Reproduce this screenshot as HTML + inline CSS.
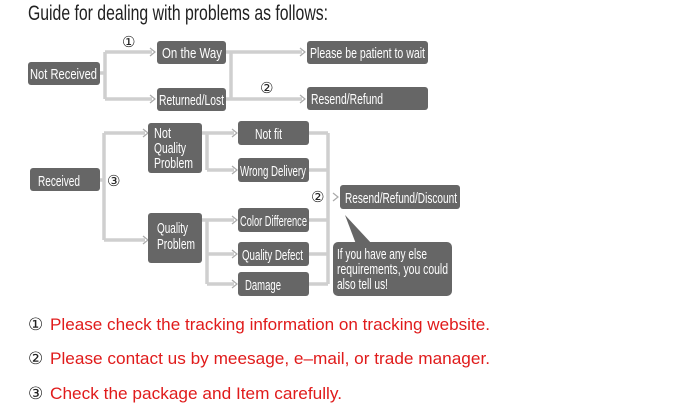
<!DOCTYPE html>
<html><head><meta charset="utf-8"><style>
body{margin:0;background:#fff;width:694px;height:410px;overflow:hidden}
svg{display:block}
.t{font-family:"Liberation Sans",sans-serif;fill:#fff;font-size:14.5px}
.r{font-family:"Liberation Sans",sans-serif;font-size:17px;fill:#e01b1b}
.c{font-family:"DejaVu Sans",sans-serif;fill:#222}
</style></head><body>
<svg width="694" height="410" viewBox="0 0 694 410">
<text x="28" y="20" font-family="Liberation Sans,sans-serif" font-size="21" fill="#222" textLength="300" lengthAdjust="spacingAndGlyphs">Guide for dealing with problems as follows:</text>
<g fill="none" stroke="#cfcfcf" stroke-width="3.5">
<path d="M100 73H105M105 52V99M105 52H152M105 99H152"/>
<path d="M226 52H231M231 52V99M231 52H302M226 99H302"/>
<path d="M100 180H104M104 133V240M104 133H145M104 240H145"/>
<path d="M202 133H207M207 133V170M207 133H234M207 170H234"/>
<path d="M202 220H207M207 220V284M207 220H234M207 254H234M207 284H234"/>
<path d="M309 133H328M309 170H328M309 220H328M309 254H328M309 284H328M328 133V284"/>
</g>
<g fill="none" stroke="#aaa" stroke-width="1.2">
<path d="M150 48l5 4-5 4M300 48l5 4-5 4M150 95l5 4-5 4M300 95l5 4-5 4"/>
<path d="M143 129l5 4-5 4M143 236l5 4-5 4"/>
<path d="M232 129l5 4-5 4M232 166l5 4-5 4M232 216l5 4-5 4M232 250l5 4-5 4M232 280l5 4-5 4"/>
<path d="M333 193l5 4-5 4"/>
</g>
<g fill="#666">
<rect x="28" y="62" width="72" height="23" rx="3"/>
<rect x="157" y="41" width="69" height="23" rx="3"/>
<rect x="307" y="41" width="121" height="23" rx="3"/>
<rect x="157" y="88" width="69" height="23" rx="3"/>
<rect x="307" y="87" width="121" height="23" rx="3"/>
<rect x="30" y="168" width="70" height="23" rx="3"/>
<rect x="148" y="123" width="54" height="50" rx="3"/>
<rect x="148" y="213" width="54" height="50" rx="3"/>
<rect x="238" y="121" width="71" height="24" rx="3"/>
<rect x="238" y="158" width="71" height="24" rx="3"/>
<rect x="238" y="208" width="71" height="24" rx="3"/>
<rect x="238" y="242" width="71" height="24" rx="3"/>
<rect x="238" y="272" width="71" height="24" rx="3"/>
<rect x="340" y="185" width="120" height="24" rx="3"/>
<rect x="333" y="242" width="119" height="54" rx="5"/>
<path d="M345 215L372 244H356Z"/>
</g>
<g class="t">
<text x="30" y="79" textLength="67" lengthAdjust="spacingAndGlyphs">Not Received</text>
<text x="162" y="58" textLength="60" lengthAdjust="spacingAndGlyphs">On the Way</text>
<text x="310" y="58" textLength="115" lengthAdjust="spacingAndGlyphs">Please be patient to wait</text>
<text x="159" y="105" textLength="65" lengthAdjust="spacingAndGlyphs">Returned/Lost</text>
<text x="311" y="104" textLength="72" lengthAdjust="spacingAndGlyphs">Resend/Refund</text>
<text x="38" y="186" textLength="42" lengthAdjust="spacingAndGlyphs">Received</text>
<text x="154" y="138" textLength="17" lengthAdjust="spacingAndGlyphs">Not</text>
<text x="154" y="153" textLength="32" lengthAdjust="spacingAndGlyphs">Quality</text>
<text x="154" y="168" textLength="39" lengthAdjust="spacingAndGlyphs">Problem</text>
<text x="157" y="233" textLength="31" lengthAdjust="spacingAndGlyphs">Quality</text>
<text x="157" y="249" textLength="38" lengthAdjust="spacingAndGlyphs">Problem</text>
<text x="255" y="139" textLength="27" lengthAdjust="spacingAndGlyphs">Not fit</text>
<text x="240" y="176" textLength="66" lengthAdjust="spacingAndGlyphs">Wrong Delivery</text>
<text x="240" y="226" textLength="67" lengthAdjust="spacingAndGlyphs">Color Difference</text>
<text x="242" y="260" textLength="61" lengthAdjust="spacingAndGlyphs">Quality Defect</text>
<text x="245" y="290" textLength="36" lengthAdjust="spacingAndGlyphs">Damage</text>
<text x="345" y="203" textLength="112" lengthAdjust="spacingAndGlyphs">Resend/Refund/Discount</text>
<text x="337" y="259" textLength="90" lengthAdjust="spacingAndGlyphs">If you have any else</text>
<text x="337" y="274" textLength="111" lengthAdjust="spacingAndGlyphs">requirements, you could</text>
<text x="337" y="289" textLength="51" lengthAdjust="spacingAndGlyphs">also tell us!</text>
</g>
<g class="c" font-size="15">
<text x="122" y="47">①</text>
<text x="260" y="93">②</text>
<text x="107" y="186">③</text>
<text x="311" y="202">②</text>
</g>
<g font-size="17">
<text class="c" x="28" y="330">①</text><text class="r" x="50" y="330" textLength="440" lengthAdjust="spacingAndGlyphs">Please check the tracking information on tracking website.</text>
<text class="c" x="28" y="364">②</text><text class="r" x="50" y="364" textLength="440" lengthAdjust="spacingAndGlyphs">Please contact us by meesage, e–mail, or trade manager.</text>
<text class="c" x="28" y="399">③</text><text class="r" x="50" y="399" textLength="292" lengthAdjust="spacingAndGlyphs">Check the package and Item carefully.</text>
</g>
</svg>
</body></html>
